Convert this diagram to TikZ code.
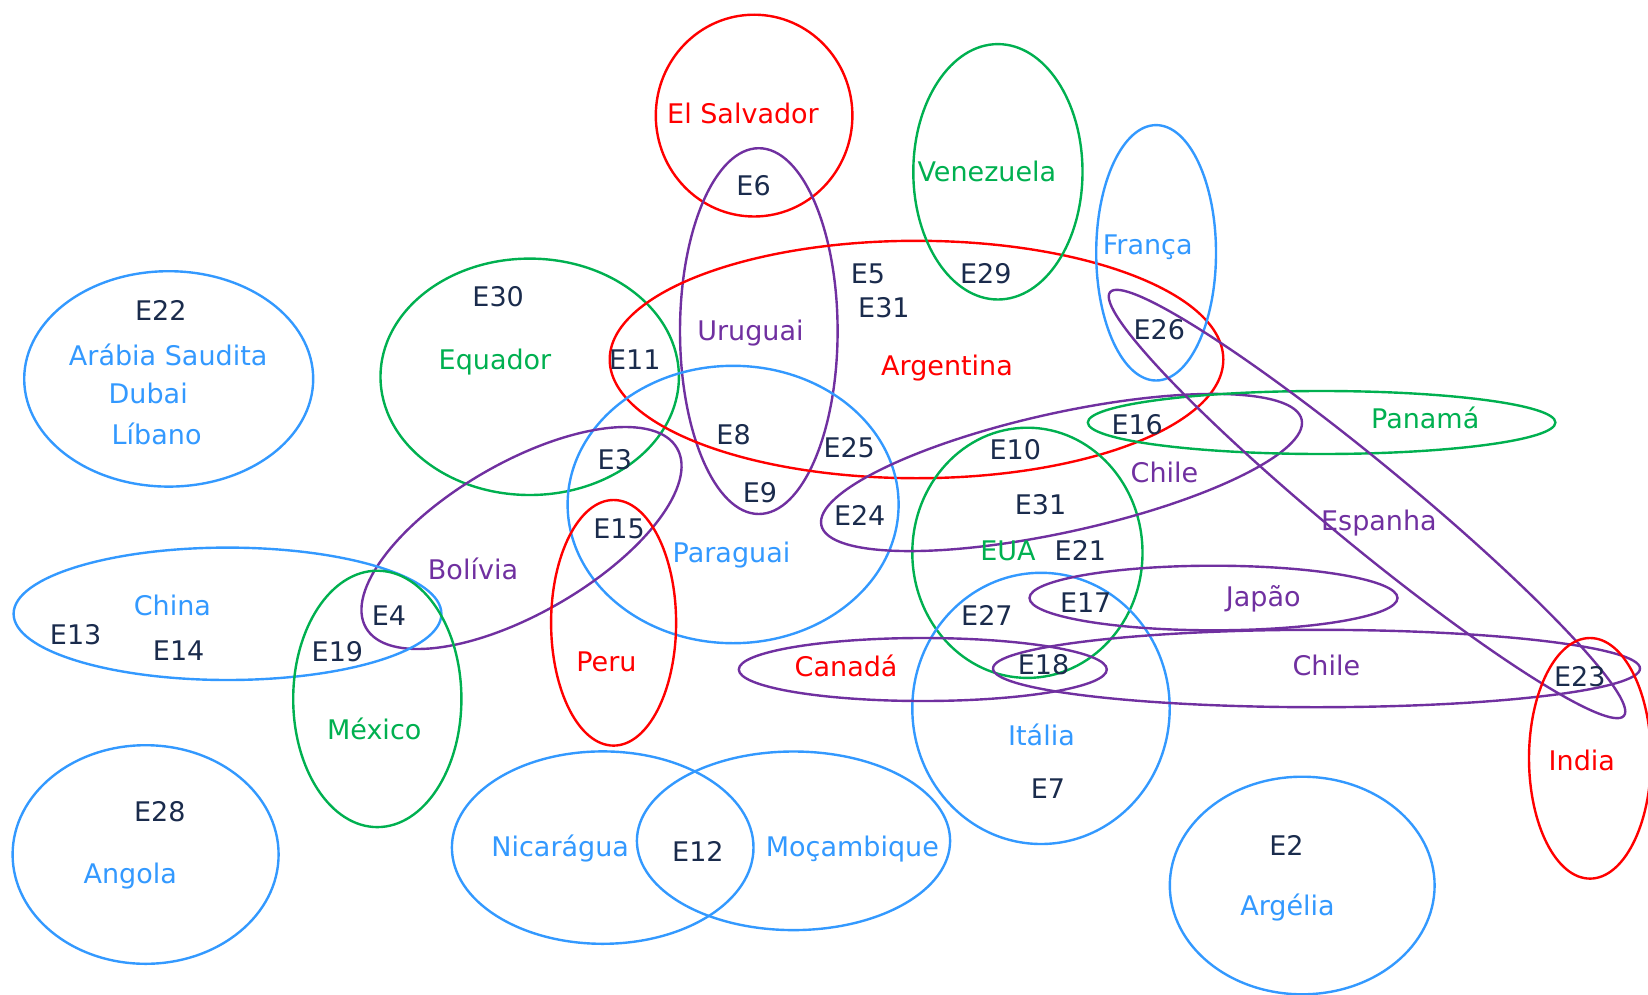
\documentclass[tikz,border=0pt]{standalone}
\usepackage{fontspec}
\setmainfont{DejaVu Sans}
\definecolor{cred}{HTML}{FF0000}
\definecolor{cgreen}{HTML}{00B050}
\definecolor{cblue}{HTML}{3399FF}
\definecolor{cpurple}{HTML}{7030A0}
\definecolor{cdark}{HTML}{1A2B4C}
\begin{document}
\begin{tikzpicture}[x=0.5pt,y=-0.5pt,
  ring/.style={line width=1.2pt},
  redring/.style={ring,draw=cred},
  greenring/.style={ring,draw=cgreen},
  bluering/.style={ring,draw=cblue},
  purplering/.style={ring,draw=cpurple},
  lbl/.style={font=\fontsize{13.5}{16}\selectfont, inner sep=0pt, text height=9.8pt, text depth=0pt, anchor=center},
  elem/.style={lbl,text=cdark},
  redlbl/.style={lbl,text=cred},
  greenlbl/.style={lbl,text=cgreen},
  bluelbl/.style={lbl,text=cblue},
  purplelbl/.style={lbl,text=cpurple}]
\useasboundingbox (0,0) rectangle (1648,995);

% sets
\draw[bluering] (168.7,378.9) ellipse [x radius=144.5, y radius=107.7];
\draw[greenring] (529.7,376.8) ellipse [x radius=149.2, y radius=118.2];
\draw[redring] (754.1,115.6) ellipse [x radius=98.3, y radius=100.9];
\draw[purplering] (758.8,331.1) ellipse [x radius=78.8, y radius=182.9];
\draw[redring] (916.5,359.5) ellipse [x radius=306.8, y radius=118.7];
\draw[greenring] (997.9,171.8) ellipse [x radius=84.6, y radius=127.7];
\draw[bluering] (1156.1,252.8) ellipse [x radius=59.9, y radius=127.7];
\draw[bluering] (733.1,504.5) ellipse [x radius=165.5, y radius=138.7];
\draw[purplering, rotate around={30:(521.5,538)}] (521.5,538) ellipse [x radius=179.6, y radius=75.3];
\draw[redring] (613.6,622.8) ellipse [x radius=62.5, y radius=122.8];
\draw[bluering] (227.5,613.8) ellipse [x radius=213.9, y radius=66.2];
\draw[greenring] (377.3,698.9) ellipse [x radius=84.1, y radius=128.2];
\draw[bluering] (145.6,854.5) ellipse [x radius=133, y radius=109.3];
\draw[bluering] (602.7,847.6) ellipse [x radius=150.8, y radius=96.2];
\draw[bluering] (793.5,840.8) ellipse [x radius=156.6, y radius=89.3];
\draw[greenring] (1027.4,552.8) ellipse [x radius=115.1, y radius=125.1];
\draw[bluering] (1041,708.4) ellipse [x radius=128.7, y radius=135.6];
\draw[purplering, rotate around={12.4:(1061.5,472.5)}] (1061.5,472.5) ellipse [x radius=245.9, y radius=59.6];
\draw[greenring] (1321.6,422.5) ellipse [x radius=233.8, y radius=31.5];
\draw[purplering, rotate around={-39.5:(1367,504)}] (1367,504) ellipse [x radius=333, y radius=41];
\draw[purplering] (1213.5,598) ellipse [x radius=184, y radius=32.3];
\draw[purplering] (922.8,669.5) ellipse [x radius=184, y radius=31.5];
\draw[purplering] (1316.5,668.5) ellipse [x radius=323.5, y radius=38.7];
\draw[redring] (1590,758.3) ellipse [x radius=61, y radius=120.3];
\draw[bluering] (1302.2,885.5) ellipse [x radius=132.4, y radius=108.8];

% set names
\node[bluelbl] (arabia) at (168.2,355.2) {Arábia Saudita};
\node[bluelbl] (dubai) at (148.2,394.1) {Dubai};
\node[bluelbl] (libano) at (156.6,435.1) {Líbano};
\node[greenlbl] (equador) at (495,359.4) {Equador};
\node[redlbl] (elsalvador) at (743,113.5) {El Salvador};
\node[purplelbl] (uruguai) at (750.4,331) {Uruguai};
\node[redlbl] (argentina) at (947,365.7) {Argentina};
\node[greenlbl] (venezuela) at (986.9,171.3) {Venezuela};
\node[bluelbl] (franca) at (1147.7,244.9) {França};
\node[greenlbl] (panama) at (1425.2,418.3) {Panamá};
\node[purplelbl] (chileA) at (1164.5,473) {Chile};
\node[purplelbl] (espanha) at (1378.9,520.2) {Espanha};
\node[bluelbl] (paraguai) at (731.5,552.8) {Paraguai};
\node[purplelbl] (bolivia) at (473,569.6) {Bolívia};
\node[greenlbl] (eua) at (1007.9,550.7) {EUA};
\node[purplelbl] (japao) at (1263.3,597) {Japão};
\node[bluelbl] (china) at (172.4,605.4) {China};
\node[redlbl] (peru) at (606.4,662.1) {Peru};
\node[redlbl] (canada) at (846.1,666.3) {Canadá};
\node[purplelbl] (chileB) at (1326.4,665.3) {Chile};
\node[greenlbl] (mexico) at (374.2,729.4) {México};
\node[bluelbl] (italia) at (1041.5,735.7) {Itália};
\node[redlbl] (india) at (1581.8,760.9) {India};
\node[bluelbl] (angola) at (130.3,873.4) {Angola};
\node[bluelbl] (nicaragua) at (560.2,847.1) {Nicarágua};
\node[bluelbl] (mocambique) at (852.4,847.1) {Moçambique};
\node[bluelbl] (argelia) at (1287.5,906) {Argélia};

% elements
\node[elem] (e22) at (160.8,311) {E22};
\node[elem] (e30) at (498.2,296.4) {E30};
\node[elem] (e11) at (634.8,359.4) {E11};
\node[elem] (e6) at (753.6,186) {E6};
\node[elem] (e5) at (868,273.3) {E5};
\node[elem] (e31a) at (883.9,308) {E31};
\node[elem] (e29) at (985.8,273.3) {E29};
\node[elem] (e26) at (1159.3,330) {E26};
\node[elem] (e8) at (733.6,435.1) {E8};
\node[elem] (e3) at (614.8,459.3) {E3};
\node[elem] (e9) at (759.9,492.9) {E9};
\node[elem] (e25) at (849.2,447.7) {E25};
\node[elem] (e10) at (1015.3,449.8) {E10};
\node[elem] (e16) at (1137.2,424.6) {E16};
\node[elem] (e24) at (859.7,516) {E24};
\node[elem] (e31b) at (1040.5,504.5) {E31};
\node[elem] (e15) at (619,528.7) {E15};
\node[elem] (e21) at (1080.4,550.7) {E21};
\node[elem] (e17) at (1085.7,602.2) {E17};
\node[elem] (e13) at (75.7,634.8) {E13};
\node[elem] (e14) at (178.7,650.6) {E14};
\node[elem] (e19) at (337.4,651.6) {E19};
\node[elem] (e4) at (388.9,615.9) {E4};
\node[elem] (e27) at (986.9,615.9) {E27};
\node[elem] (e18) at (1043.6,664.2) {E18};
\node[elem] (e23) at (1579.7,676.8) {E23};
\node[elem] (e7) at (1047.9,788.3) {E7};
\node[elem] (e28) at (159.8,811.4) {E28};
\node[elem] (e12) at (697.9,851.3) {E12};
\node[elem] (e2) at (1286.4,846.1) {E2};
\end{tikzpicture}
\end{document}
